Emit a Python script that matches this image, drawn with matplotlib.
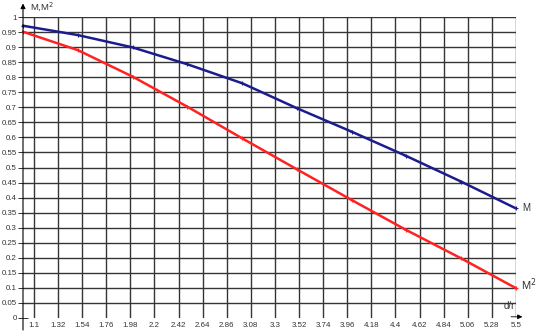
import matplotlib
matplotlib.use("Agg")
import matplotlib.pyplot as plt
import numpy as np

# data
x_pts = [1.0, 1.5, 2.0, 2.5, 3.0, 3.5, 4.0, 4.5, 5.0, 5.5]
M = [0.971, 0.940, 0.899, 0.843, 0.780, 0.697, 0.619, 0.538, 0.453, 0.364]
M2 = [0.951, 0.890, 0.802, 0.702, 0.597, 0.494, 0.392, 0.292, 0.198, 0.099]
xticks = [1.1, 1.32, 1.54, 1.76, 1.98, 2.2, 2.42, 2.64, 2.86, 3.08, 3.3, 3.52,
          3.74, 3.96, 4.18, 4.4, 4.62, 4.84, 5.06, 5.28, 5.5]
xtick_labels = ["1.1", "1.32", "1.54", "1.76", "1.98", "2.2", "2.42", "2.64", "2.86",
                "3.08", "3.3", "3.52", "3.74", "3.96", "4.18", "4.4", "4.62", "4.84",
                "5.06", "5.28", "5.5"]
yticks = [round(0.05 * i, 2) for i in range(21)]
ytick_labels = ["0", "0.05", "0.1", "0.15", "0.2", "0.25", "0.3", "0.35", "0.4", "0.45",
                "0.5", "0.55", "0.6", "0.65", "0.7", "0.75", "0.8", "0.85", "0.9", "0.95", "1"]

plt.rcParams['font.family'] = ['Liberation Sans', 'DejaVu Sans']

W, H = 542, 336
fig = plt.figure(figsize=(W / 100, H / 100), dpi=100)
L, R, B, T = 23, 516, 318, 17
ax = fig.add_axes([L / W, 1 - B / H, (R - L) / W, (B - T) / H])
ax.set_xlim(1.0, 5.5)
ax.set_ylim(0, 1.0)

grid_c = '#353535'
for xv in xticks:
    ax.plot([xv, xv], [0, 1.0], color=grid_c, lw=1.0, zorder=1)
for yv in yticks[1:]:
    ax.plot([1.0, 5.5], [yv, yv], color=grid_c, lw=1.0, zorder=1)

for s in ax.spines.values():
    s.set_visible(False)

ax.set_xticks(xticks)
ax.set_xticklabels(xtick_labels, fontsize=5.7, color='#333333')
ax.set_yticks(yticks)
ax.set_yticklabels(ytick_labels, fontsize=5.7, color='#333333')
ax.tick_params(axis='x', length=0, pad=3)
ax.tick_params(axis='y', direction='inout', length=7, width=0.7, pad=1, colors='#333333')

ax.plot(x_pts, M, color='#1c1c8e', lw=1.8, marker='+', ms=3, mew=0.8, zorder=3,
        clip_on=False, solid_capstyle='round')
ax.plot(x_pts, M2, color='#ff2222', lw=1.8, marker='+', ms=3, mew=0.8, zorder=3,
        clip_on=False, solid_capstyle='round')

# y axis with arrow
ax.annotate('', xy=(0, 1.045), xytext=(0, -0.04), xycoords='axes fraction',
            textcoords='axes fraction',
            arrowprops=dict(arrowstyle='-|>', color='black', lw=0.8, mutation_scale=7,
                            shrinkA=0, shrinkB=0))
# x axis arrow
ax.annotate('', xy=(1.013, 0.004), xytext=(0.99, 0.004), xycoords='axes fraction',
            textcoords='axes fraction',
            arrowprops=dict(arrowstyle='-|>', color='black', lw=0.6, mutation_scale=7,
                            shrinkA=0, shrinkB=0))

ax.text(0.014, 1.035, 'M,M$^2$', transform=ax.transAxes, fontsize=6.8, color='#333333',
        ha='left', va='center')
ax.text(0.975, 0.04, 'd/r', transform=ax.transAxes, fontsize=7, color='#333333',
        ha='left', va='center')
ax.text(5.56, M[-1], 'M', fontsize=7, color='#333333', ha='left', va='center')
ax.text(5.55, M2[-1] + 0.01, 'M$^2$', fontsize=8, color='#333333', ha='left', va='center')

fig.savefig('out.png', dpi=100)
